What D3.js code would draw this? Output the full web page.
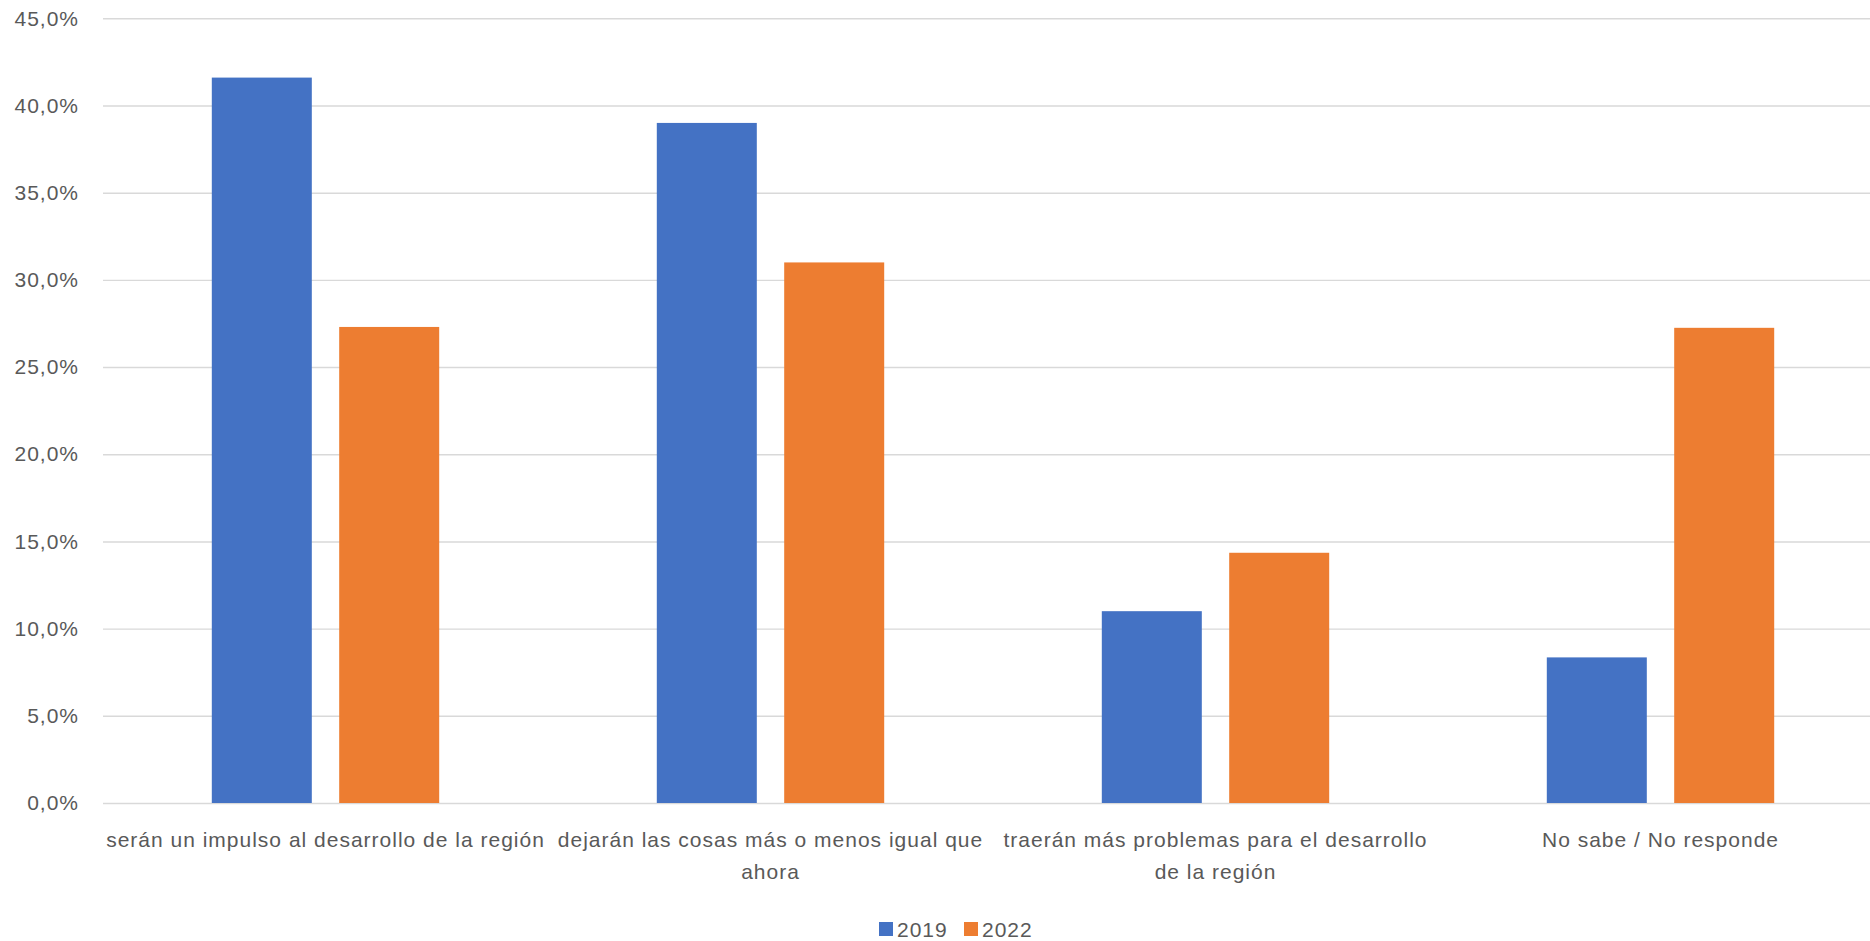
<!DOCTYPE html>
<html>
<head>
<meta charset="utf-8">
<script src="https://cdn.jsdelivr.net/npm/d3@7"></script>
<style>
  html, body { margin: 0; padding: 0; background: #fff; }
  svg text { font-family: "Liberation Sans", Arial, sans-serif; fill: #595959; }
</style>
</head>
<body>
<svg id="chart" width="1870" height="941"></svg>
<script>
const categories = [
  "serán un impulso al desarrollo de la región",
  "dejarán las cosas más o menos igual que ahora",
  "traerán más problemas para el desarrollo de la región",
  "No sabe / No responde"
];
const series = ["2019", "2022"];
const values2019 = [41.6, 39.0, 11.0, 8.35];
const values2022 = [27.3, 31.0, 14.35, 27.25];
const yTicks = [0, 5, 10, 15, 20, 25, 30, 35, 40, 45];
const colors = ["#4472C4", "#ED7D31"];

(function () {
const svg = d3.select("#chart");
const plotLeft = 103, plotRight = 1883, plotTop = 18.3, plotBottom = 803;
const fontSize = 21, letterSp = 1;

const y = d3.scaleLinear().domain([0, 45]).range([plotBottom, plotTop]);
const x0 = d3.scaleBand().domain(categories).range([plotLeft, plotRight]).padding(0);
const groupW = 227.4;
const x1 = d3.scaleBand().domain(series)
  .range([x0.bandwidth() / 2 - groupW / 2, x0.bandwidth() / 2 + groupW / 2])
  .paddingInner(0.215).paddingOuter(0);

const locale = d3.formatLocale({decimal: ",", thousands: ".", grouping: [3], currency: ["", "€"]});
const fmt = v => locale.format(".1f")(v) + "%";

// gridlines + y labels
const yAxis = d3.axisLeft(y).tickValues(yTicks).tickFormat(fmt).tickSize(-(1870 - plotLeft)).tickPadding(24);
const gy = svg.append("g").attr("transform", `translate(${plotLeft},0)`).call(yAxis);
gy.select(".domain").remove();
gy.selectAll(".tick line").attr("stroke", "#D9D9D9").attr("stroke-width", 1.4);
gy.selectAll(".tick text")
  .attr("font-size", fontSize)
  .attr("letter-spacing", letterSp)
  .attr("fill", "#595959")
  .attr("font-family", "Liberation Sans, Arial, sans-serif");

// bars
const data = categories.map((c, i) => ({cat: c, vals: [values2019[i], values2022[i]]}));
const groups = svg.append("g").selectAll("g").data(data).join("g")
  .attr("transform", d => `translate(${x0(d.cat)},0)`);
groups.selectAll("rect").data(d => d.vals.map((v, j) => ({s: series[j], v, j}))).join("rect")
  .attr("x", d => x1(d.s))
  .attr("width", x1.bandwidth())
  .attr("y", d => y(d.v))
  .attr("height", d => y(0) - y(d.v))
  .attr("fill", d => colors[d.j]);

// x labels with wrapping
const xl = svg.append("g");
const maxW = x0.bandwidth();
data.forEach(d => {
  const cx = x0(d.cat) + x0.bandwidth() / 2;
  const t = xl.append("text").attr("text-anchor", "middle").attr("font-size", fontSize)
    .attr("letter-spacing", letterSp).attr("x", cx).attr("y", 847);
  const words = d.cat.split(" ");
  let lines = [];
  let line = [];
  const probe = t.append("tspan");
  words.forEach(w => {
    const trial = line.concat([w]).join(" ");
    probe.text(trial);
    if (probe.node().getComputedTextLength() > maxW && line.length) {
      lines.push(line.join(" "));
      line = [w];
    } else {
      line.push(w);
    }
  });
  lines.push(line.join(" "));
  probe.remove();
  lines.forEach((ln, k) => {
    t.append("tspan").attr("x", cx).attr("y", 847 + k * 32).text(ln);
  });
});

// legend
const lg = svg.append("g");
const legendX = [879, 964];
series.forEach((s, i) => {
  lg.append("rect").attr("x", legendX[i]).attr("y", 922).attr("width", 14).attr("height", 14).attr("fill", colors[i]);
  lg.append("text").attr("x", legendX[i] + 18).attr("y", 936.5).attr("font-size", fontSize)
    .attr("letter-spacing", letterSp).text(s);
});
})();
</script>
</body>
</html>
